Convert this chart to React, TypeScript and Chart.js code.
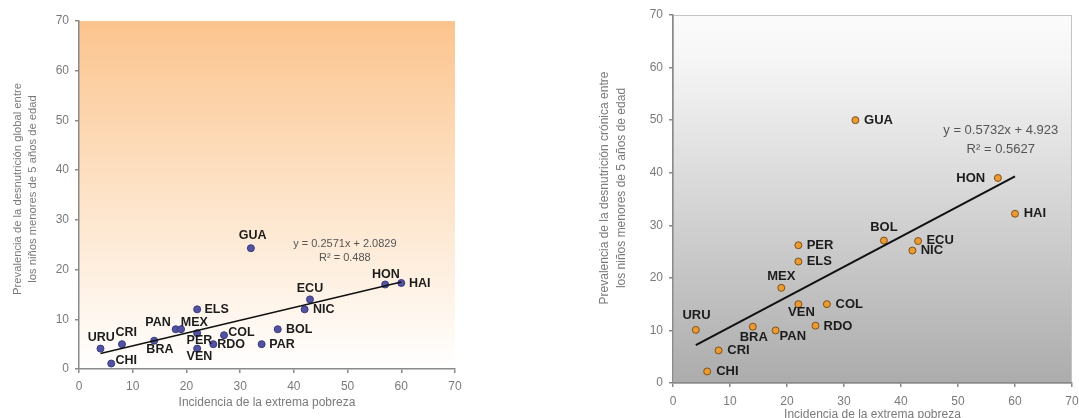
import { useEffect, useRef } from 'react';
import { Chart, registerables } from 'chart.js';

Chart.register(...registerables);

// ---------- Data: left chart (desnutrición global) ----------
const countriesGlobal = ['URU', 'CRI', 'CHI', 'BRA', 'PAN', 'MEX', 'PER', 'VEN', 'ELS', 'RDO', 'COL', 'PAR', 'BOL', 'GUA', 'ECU', 'NIC', 'HON', 'HAI'];
const pobrezaGlobal = [4, 8, 6, 14, 18, 19, 22, 22, 22, 25, 27, 34, 37, 32, 43, 42, 57, 60];
const desnutricionGlobal = [4.1, 5, 1.1, 5.7, 8, 8, 7.2, 4.1, 12, 5, 6.8, 5, 8, 24.3, 14, 12, 17, 17.3];
const slopeGlobal = 0.2571;
const interceptGlobal = 2.0829;
const r2Global = '0.488';
const trendRangeGlobal = [4, 60];

// ---------- Data: right chart (desnutrición crónica) ----------
const countriesCronica = ['URU', 'CRI', 'CHI', 'BRA', 'PAN', 'MEX', 'PER', 'VEN', 'ELS', 'RDO', 'COL', 'BOL', 'GUA', 'ECU', 'NIC', 'HON', 'HAI'];
const pobrezaCronica = [4, 8, 6, 14, 18, 19, 22, 22, 22, 25, 27, 37, 32, 43, 42, 57, 60];
const desnutricionCronica = [10.1, 6.2, 2.2, 10.7, 10, 18.1, 26.2, 15, 23.1, 10.9, 15, 27.1, 50, 27, 25.2, 39, 32.2];
const slopeCronica = 0.5732;
const interceptCronica = 4.923;
const r2Cronica = '0.5627';
const trendRangeCronica = [4, 60];

const axisMin = 0;
const axisMax = 70;
const axisStep = 10;

const xTitle = 'Incidencia de la extrema pobreza';
const yTitleGlobal = ['Prevalencia de la desnutrición global entre', 'los niños menores de 5 años de edad'];
const yTitleCronica = ['Prevalencia de la desnutrición crónica entre', 'los niños menores de 5 años de edad'];

const FONT = "'Liberation Sans', Arial, Helvetica, sans-serif";

// label placement: [dx, dy, align]
const placeGlobal: Record<string, [number, number, CanvasTextAlign]> = {
  GUA: [1.7, -12.3, 'center'], HON: [0.7, -10, 'center'], HAI: [7.7, 0.7, 'left'],
  ECU: [0, -11, 'center'], NIC: [8.3, 0, 'left'], ELS: [7.3, 0, 'left'],
  PAN: [-17.7, -7, 'center'], MEX: [13.3, -7, 'center'], URU: [0.7, -10.7, 'center'],
  CRI: [4.3, -11.7, 'center'], BRA: [5.7, 9.3, 'center'], PER: [2.3, 7.3, 'center'],
  VEN: [2.3, 8.3, 'center'], RDO: [4, 0, 'left'], COL: [4.3, -2.3, 'left'],
  PAR: [7.7, 0, 'left'], BOL: [8.3, 0, 'left'], CHI: [4.3, -3.3, 'left'],
};
const placeCronica: Record<string, [number, number, CanvasTextAlign]> = {
  GUA: [8.7, 0, 'left'], HON: [-12.7, 0, 'right'], HAI: [8.7, 0, 'left'],
  BOL: [0, -13, 'center'], ECU: [8.3, -0.7, 'left'], NIC: [8.3, 0, 'left'],
  PER: [8.3, 0, 'left'], ELS: [8.3, 0, 'left'], MEX: [0, -11.7, 'center'],
  VEN: [3, 8.7, 'center'], COL: [8.7, 0, 'left'], URU: [0.7, -14, 'center'],
  BRA: [1, 10.3, 'center'], PAN: [4, 5.7, 'left'], RDO: [8, 0.7, 'left'],
  CRI: [8.7, 0, 'left'], CHI: [9, 0, 'left'],
};

type Cfg = {
  countries: string[];
  xs: number[];
  ys: number[];
  slope: number;
  intercept: number;
  r2: string;
  trendRange: number[];
  yTitle: string[];
  place: Record<string, [number, number, CanvasTextAlign]>;
  width: number;
  height: number;
  yAxisWidth: number;
  xAxisHeight: number;
  padRight: number;
  padTop: number;
  pointFill: string;
  pointBorder: string;
  labelFont: number;
  eqFont: number;
  eqPos: [number, number];
  eqLineGap: number;
  gradient: [number, string][];
  frame: boolean;
  yTitleFont: number;
  yTitleX: [number, number];
  yTitleY: number;
  xTitlePad: number;
  xTickPad: number;
  trendWidth: number;
};

function makeChart(canvas: HTMLCanvasElement, c: Cfg) {
  const trend = c.trendRange.map((x) => ({ x, y: c.slope * x + c.intercept }));
  const pts = c.xs.map((x, i) => ({ x, y: c.ys[i] }));

  const bgPlugin = {
    id: 'bg',
    beforeDraw(chart: any) {
      const { ctx, chartArea: a } = chart;
      ctx.save();
      ctx.fillStyle = '#ffffff';
      ctx.fillRect(0, 0, chart.width, chart.height);
      const g = ctx.createLinearGradient(0, a.top, 0, a.bottom);
      c.gradient.forEach(([s, col]) => g.addColorStop(s, col));
      ctx.fillStyle = g;
      ctx.fillRect(a.left, a.top, a.right - a.left, a.bottom - a.top);
      if (c.frame) {
        ctx.strokeStyle = '#c4c4c4';
        ctx.lineWidth = 1;
        ctx.strokeRect(a.left + 0.5, a.top + 0.5, a.right - a.left - 1, a.bottom - a.top);
      }
      ctx.restore();
    },
  };

  const labelPlugin = {
    id: 'labels',
    afterDatasetsDraw(chart: any) {
      const { ctx } = chart;
      const meta = chart.getDatasetMeta(1);
      ctx.save();
      ctx.font = `bold ${c.labelFont}px ${FONT}`;
      ctx.fillStyle = '#1c1c1c';
      ctx.textBaseline = 'middle';
      meta.data.forEach((el: any, i: number) => {
        const name = c.countries[i];
        const p = c.place[name] || [8, 0, 'left'];
        ctx.textAlign = p[2];
        ctx.fillText(name, el.x + p[0], el.y + p[1]);
      });
      const sx = chart.scales.x;
      const sy = chart.scales.y;
      const ex = sx.getPixelForValue(c.eqPos[0]);
      const ey = sy.getPixelForValue(c.eqPos[1]);
      ctx.font = `${c.eqFont}px ${FONT}`;
      ctx.fillStyle = '#555555';
      ctx.textAlign = 'center';
      const sign = c.intercept >= 0 ? '+' : '-';
      ctx.fillText(`y = ${c.slope}x ${sign} ${Math.abs(c.intercept)}`, ex, ey);
      ctx.fillText(`R² = ${c.r2}`, ex, ey + c.eqLineGap);

      // vertical axis title
      ctx.font = `${c.yTitleFont}px ${FONT}`;
      ctx.fillStyle = '#7a7a7a';
      ctx.textAlign = 'center';
      c.yTitle.forEach((line, i) => {
        ctx.save();
        ctx.translate(c.yTitleX[i], c.yTitleY);
        ctx.rotate(-Math.PI / 2);
        ctx.fillText(line, 0, 0);
        ctx.restore();
      });
      ctx.restore();
    },
  };

  const tickFont = { family: FONT, size: 12 };
  return new Chart(canvas, {
    type: 'scatter',
    data: {
      datasets: [
        {
          type: 'line',
          data: trend,
          borderColor: '#111111',
          borderWidth: c.trendWidth,
          pointRadius: 0,
          fill: false,
        } as any,
        {
          data: pts,
          backgroundColor: c.pointFill,
          borderColor: c.pointBorder,
          borderWidth: 1,
          pointRadius: 3.5,
        },
      ],
    },
    options: {
      responsive: false,
      animation: false,
      events: [],
      layout: { padding: { left: 0, right: c.padRight, top: c.padTop, bottom: 0 } },
      plugins: { legend: { display: false }, tooltip: { enabled: false } },
      scales: {
        x: {
          type: 'linear',
          min: axisMin,
          max: axisMax,
          ticks: { stepSize: axisStep, color: '#7a7a7a', font: tickFont, padding: c.xTickPad },
          grid: { drawOnChartArea: false, tickLength: 4, color: '#8a8a8a', lineWidth: 1.5 },
          border: { color: '#8a8a8a', width: 1.5 },
          title: {
            display: true,
            text: xTitle,
            color: '#7a7a7a',
            font: { family: FONT, size: 12 },
            padding: { top: 0, bottom: c.xTitlePad },
          },
          afterFit: (s: any) => {
            s.height = c.xAxisHeight;
          },
        },
        y: {
          type: 'linear',
          min: axisMin,
          max: axisMax,
          ticks: { stepSize: axisStep, color: '#7a7a7a', font: tickFont, padding: 6 },
          grid: { drawOnChartArea: false, tickLength: 4, color: '#8a8a8a', lineWidth: 1.5 },
          border: { color: '#8a8a8a', width: 1.5 },
          title: { display: false },
          afterFit: (s: any) => {
            s.width = c.yAxisWidth;
          },
        },
      },
    },
    plugins: [bgPlugin, labelPlugin],
  } as any);
}

const leftCfg: Cfg = {
  countries: countriesGlobal,
  xs: pobrezaGlobal,
  ys: desnutricionGlobal,
  slope: slopeGlobal,
  intercept: interceptGlobal,
  r2: r2Global,
  trendRange: trendRangeGlobal,
  yTitle: yTitleGlobal,
  place: placeGlobal,
  width: 480,
  height: 418,
  yAxisWidth: 79,
  xAxisHeight: 49,
  padRight: 25,
  padTop: 21,
  pointFill: '#5252a0',
  pointBorder: '#3a3a82',
  labelFont: 12.5,
  eqFont: 11,
  eqPos: [49.5, 25.2],
  eqLineGap: 14.3,
  gradient: [[0, '#fcc48e'], [0.45, '#fde0c2'], [1, '#ffffff']],
  frame: false,
  yTitleFont: 11.25,
  yTitleX: [18, 33],
  yTitleY: 189,
  xTitlePad: 8,
  xTickPad: 6,
  trendWidth: 1.6,
};

const rightCfg: Cfg = {
  countries: countriesCronica,
  xs: pobrezaCronica,
  ys: desnutricionCronica,
  slope: slopeCronica,
  intercept: interceptCronica,
  r2: r2Cronica,
  trendRange: trendRangeCronica,
  yTitle: yTitleCronica,
  place: placeCronica,
  width: 540,
  height: 440,
  yAxisWidth: 113,
  xAxisHeight: 57,
  padRight: 28,
  padTop: 15,
  pointFill: '#eb9a34',
  pointBorder: '#7d5119',
  labelFont: 13,
  eqFont: 13,
  eqPos: [57.5, 48.1],
  eqLineGap: 19,
  gradient: [[0, '#fbfbfb'], [0.12, '#f6f6f6'], [1, '#acacac']],
  frame: true,
  yTitleFont: 12,
  yTitleX: [45, 61.7],
  yTitleY: 188,
  xTitlePad: 17.8,
  xTickPad: 7,
  trendWidth: 2,
};

function ChartBox({ cfg, left }: { cfg: Cfg; left: number }) {
  const ref = useRef<HTMLCanvasElement | null>(null);
  useEffect(() => {
    if (!ref.current) return;
    const ch = makeChart(ref.current, cfg);
    return () => ch.destroy();
  }, [cfg]);
  return (
    <canvas
      ref={ref}
      width={cfg.width}
      height={cfg.height}
      style={{ position: 'absolute', left, top: 0, width: cfg.width, height: cfg.height }}
    />
  );
}

export default function App() {
  return (
    <div
      style={{
        position: 'fixed',
        left: 0,
        top: 0,
        width: 1079,
        height: 418,
        overflow: 'hidden',
        background: '#ffffff',
      }}
    >
      <ChartBox cfg={leftCfg} left={0} />
      <ChartBox cfg={rightCfg} left={560} />
    </div>
  );
}
